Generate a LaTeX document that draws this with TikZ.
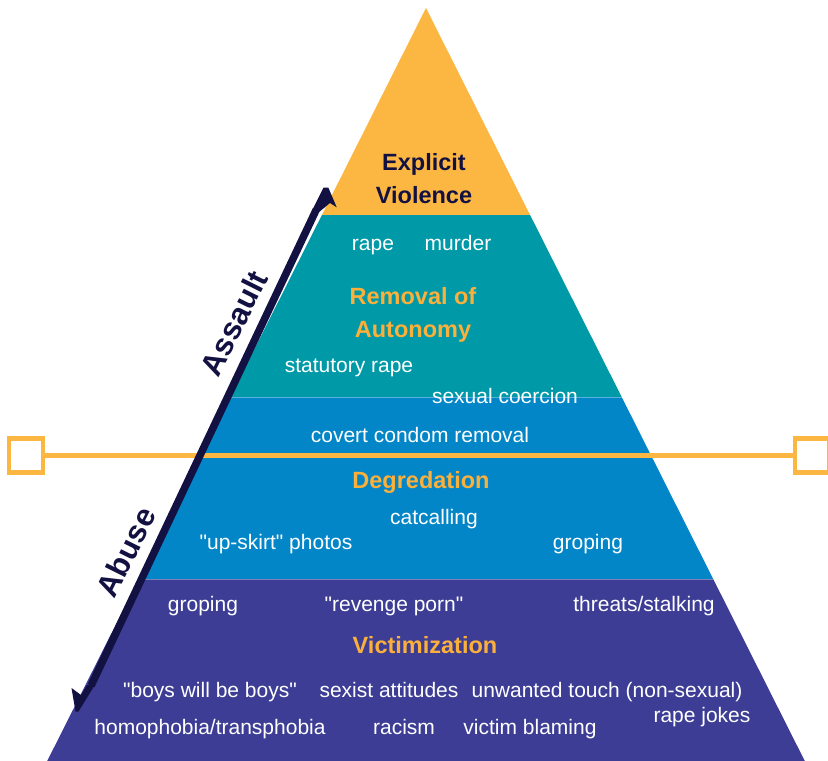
\documentclass[tikz,border=0pt]{standalone}
\usepackage{fontspec}
\setmainfont{Liberation Sans}
\definecolor{pyel}{RGB}{251,183,65}
\definecolor{pteal}{RGB}{0,153,168}
\definecolor{pblue}{RGB}{2,134,199}
\definecolor{ppurp}{RGB}{61,61,150}
\definecolor{pnavy}{RGB}{18,17,66}
\definecolor{ptitle}{RGB}{251,176,59}
\begin{document}
\begin{tikzpicture}[x=1pt,y=-1pt,
  item/.style={text=white, font=\fontsize{21}{24}\selectfont, inner sep=0pt, text height=15pt, text depth=4.5pt},
  bandtitle/.style={text=ptitle, font=\bfseries\fontsize{23.5}{33}\selectfont, align=center, inner sep=0pt},
  toptitle/.style={text=pnavy, font=\bfseries\fontsize{23.5}{33}\selectfont, align=center, inner sep=0pt},
  sidelbl/.style={text=pnavy, font=\bfseries\fontsize{31}{33}\selectfont, inner sep=0pt, rotate=63.5},
  sepline/.style={white, opacity=0.35, line width=1pt},
  endsq/.style={draw=pyel, line width=4.5pt, minimum size=34pt, inner sep=0pt},
  shaft/.style={pnavy, line width=7.5pt, shorten <=26pt, shorten >=25pt},
  headfill/.style={fill=pnavy}
]
\useasboundingbox (0,0) rectangle (828,761);
\clip (0,0) rectangle (828,761);
% pyramid corners
\coordinate (apex) at (426,8);
\coordinate (l1) at (321.9,215); \coordinate (r1) at (530.1,215);
\coordinate (l2) at (230.3,397); \coordinate (r2) at (621.7,397);
\coordinate (l3) at (138.8,579); \coordinate (r3) at (713.2,579);
\coordinate (l4) at (47.2,761);  \coordinate (r4) at (804.8,761);
% bands
\fill[pyel] (apex) -- (r1) -- (l1) -- cycle;
\fill[pteal] (l1) -- (r1) -- (r2) -- (l2) -- cycle;
\fill[pblue] (l2) -- (r2) -- (r3) -- (l3) -- cycle;
\fill[ppurp] (l3) -- (r3) -- (r4) -- (l4) -- cycle;
\draw[sepline] (l2) -- (r2);
\draw[sepline] (l3) -- (r3);
% divider line with end squares
\node[endsq] (sqL) at (26,455.5) {};
\node[endsq] (sqR) at (812,455.5) {};
\draw[pyel, line width=5pt] (sqL) -- (sqR);
% side arrow (double harpoon)
\coordinate (aB) at (80,709);
\coordinate (aT) at (327,187);
\draw[shaft] (aB) -- (aT);
\fill[headfill] (323.5,187.5) -- (328.3,187.5) -- (336.7,207.3) -- (330,203)
  -- (319.1,212) -- (311.3,212) -- cycle;
\fill[headfill] (75.5,711.5) -- (78.5,711.5) -- (94.8,685) -- (87,685)
  -- (81,695) -- (71.5,688) -- cycle;
\node[sidelbl] (assault) at (234,323) {Assault};
\node[sidelbl] (abuse) at (126,552) {Abuse};
% titles
\node[toptitle] (explicit) at (424,179) {Explicit\\Violence};
\node[bandtitle] (removal) at (413,315) {Removal of\\Autonomy};
\node[bandtitle] (degr) at (421,482) {Degredation};
\node[bandtitle] (victim) at (425,645) {Victimization};
% items
\node[item] (rape) at (373,245) {rape};
\node[item] (murder) at (458,245) {murder};
\node[item] (statrape) at (349,367) {statutory rape};
\node[item] (coercion) at (505,398) {sexual coercion};
\node[item] (condom) at (420,437) {covert condom removal};
\node[item] (catcall) at (434,519) {catcalling};
\node[item] (upskirt) at (276,544) {\textquotedbl up-skirt\textquotedbl{} photos};
\node[item] (groping1) at (588,544) {groping};
\node[item] (groping2) at (203,606) {groping};
\node[item] (revenge) at (394,606) {\textquotedbl revenge porn\textquotedbl};
\node[item] (threats) at (644,606) {threats/stalking};
\node[item] (boys) at (210,692) {\textquotedbl boys will be boys\textquotedbl};
\node[item] (sexist) at (389,692) {sexist attitudes};
\node[item] (unwanted) at (607,692) {unwanted touch (non-sexual)};
\node[item] (jokes) at (702,717) {rape jokes};
\node[item] (homo) at (210,729) {homophobia/transphobia};
\node[item] (racism) at (404,729) {racism};
\node[item] (blaming) at (530,729) {victim blaming};
\end{tikzpicture}
\end{document}
